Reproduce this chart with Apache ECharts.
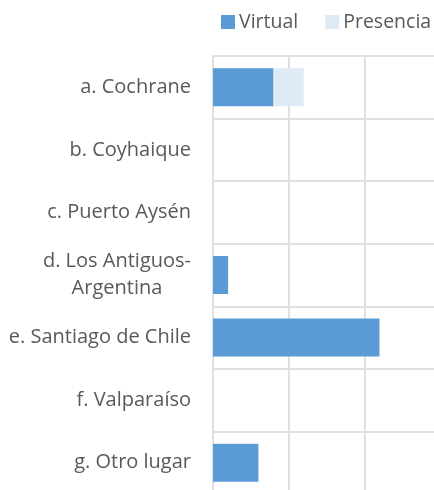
<!DOCTYPE html>
<html>
<head>
<meta charset="utf-8">
<script src="https://cdn.jsdelivr.net/npm/echarts@6/dist/echarts.min.js"></script>
<style>
  html, body { margin: 0; padding: 0; background: #fff; overflow: hidden; }
  /* the plot runs past the bottom and right edge of the picture, so the canvas is larger than the window */
  #main { width: 480px; height: 520px; }
</style>
</head>
<body>
<div id="main"></div>
<script>
var categories = ['a. Cochrane', 'b. Coyhaique', 'c. Puerto Aysén', 'd. Los Antiguos-\nArgentina',
    'e. Santiago de Chile', 'f. Valparaíso', 'g. Otro lugar'];
var virtual = [4, 0, 0, 1, 11, 0, 3];
var presencia = [2, 0, 0, 0, 0, 0, 0];
var seriesNames = ['Virtual', 'Presencia'];

var myChart = echarts.init(document.getElementById('main'));
myChart.setOption({
    animation: false,
    textStyle: { fontFamily: 'Open Sans' },
    legend: {
        data: seriesNames,
        left: 216,
        top: 7,
        itemWidth: 14,
        itemHeight: 14,
        itemGap: 27,
        icon: 'rect',
        textStyle: { color: '#595959', fontSize: 19.5, fontFamily: 'Open Sans', padding: [0, 0, 0, -1] }
    },
    grid: { left: 213, top: 56, width: 227, height: 438, containLabel: false },
    xAxis: {
        type: 'value',
        min: 0,
        max: 15,
        interval: 5,
        axisLabel: { show: false },
        axisLine: { show: false },
        axisTick: { show: false },
        splitLine: { lineStyle: { color: '#e0e0e0', width: 2 } }
    },
    yAxis: {
        type: 'category',
        inverse: true,
        data: categories,
        axisTick: { show: false },
        axisLine: { lineStyle: { color: '#e0e0e0', width: 2 } },
        splitLine: { show: true, lineStyle: { color: '#e0e0e0', width: 2 } },
        axisLabel: {
            margin: 22,
            // wrapped label lines are centred on each other, like the original
            formatter: function (v) { return '{c|' + v.split('\n').join('}\n{c|') + '}'; },
            rich: {
                c: { align: 'center', color: '#595959', fontSize: 20, lineHeight: 27, fontFamily: 'Open Sans' }
            }
        }
    },
    series: [{
        name: seriesNames[0],
        type: 'bar',
        stack: 'total',
        barWidth: 38,
        itemStyle: { color: '#5B9BD5' },
        data: virtual
    }, {
        name: seriesNames[1],
        type: 'bar',
        stack: 'total',
        barWidth: 38,
        itemStyle: { color: '#DEEBF7' },
        data: presencia
    }]
});
</script>
</body>
</html>
